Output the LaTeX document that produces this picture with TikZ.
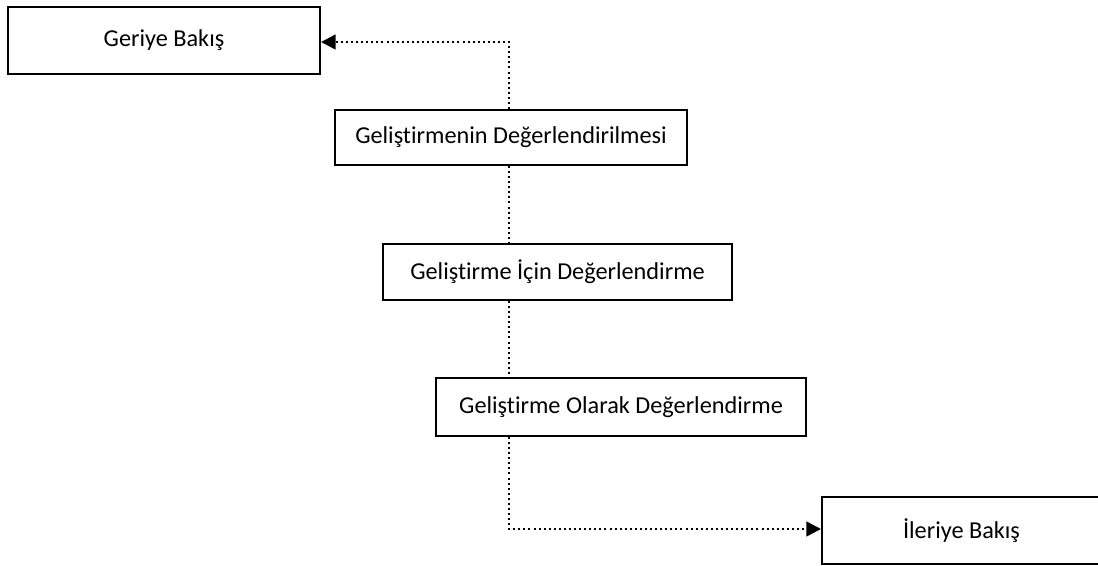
\documentclass[tikz,border=0pt]{standalone}
\usepackage{fontspec}
\setmainfont{Carlito}[Ligatures=NoCommon]
\usetikzlibrary{arrows.meta}
\begin{document}
\begin{tikzpicture}[x=0.75pt,y=-0.75pt,
  stage/.style={draw=black,line width=1.5pt,fill=white,inner sep=0pt,
    font=\fontsize{18.2}{22}\selectfont,text=black},
  link/.style={line width=1.9pt,dash pattern=on 1.5pt off 2.3pt,line cap=butt},
  tip/.style={-{Triangle[length=11pt,width=11pt]}}]
\useasboundingbox (0,0) rectangle (1098,565);
\node[stage,minimum width=234pt,minimum height=50.25pt] (g) at (164,40.5) {Geriye Bakış};
\node[stage,minimum width=264pt,minimum height=41.25pt] (a) at (511,137.5) {Geliştirmenin Değerlendirilmesi};
\node[stage,minimum width=261.75pt,minimum height=42pt] (b) at (557.5,272) {Geliştirme İçin Değerlendirme};
\node[stage,minimum width=277.5pt,minimum height=43.5pt] (c) at (621,407) {Geliştirme Olarak Değerlendirme};
\node[stage,minimum width=209.25pt,minimum height=50.25pt] (i) at (961.5,530.5) {İleriye Bakış};
\coordinate (top) at (509,42);
\coordinate (bot) at (509,529);
\draw[link,tip] (a.north -| top) -- (top) -- (g.east |- top);
\draw[link] (a.south -| top) -- (b.north -| top);
\draw[link] (b.south -| top) -- (c.north -| top);
\draw[link,tip] (c.south -| bot) -- (bot) -- (i.west |- bot);
\end{tikzpicture}
\end{document}
